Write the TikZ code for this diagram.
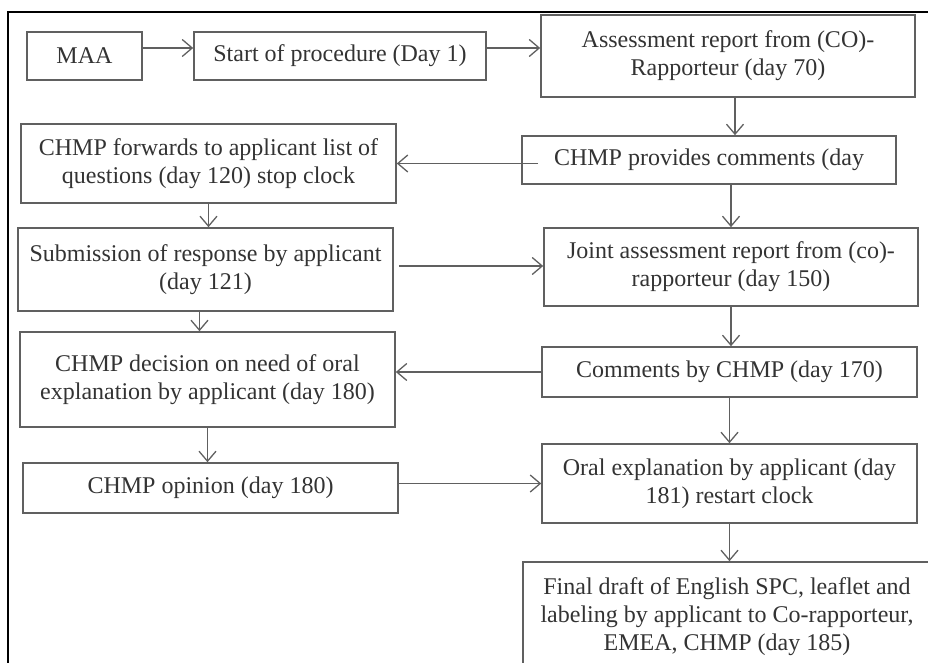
\documentclass[tikz,border=0pt]{standalone}
\usepackage{fontspec}
\setmainfont{Liberation Serif}
\usetikzlibrary{arrows.meta, calc}
\definecolor{boxgray}{HTML}{606060}
\definecolor{txtgray}{HTML}{333333}

\begin{document}
\begin{tikzpicture}[x=1pt,y=-1pt,
	box/.style={draw=boxgray,line width=1.6pt,inner sep=0pt,align=center,text=txtgray,font=\fontsize{24}{28}\selectfont},
	link/.style={draw=boxgray,line width=1.3pt,-{Straight Barb[length=10pt,width=17pt]}}]
	\useasboundingbox (0,0) rectangle (928,663);
	\clip (0,0) rectangle (928,663);
	\draw[line width=1.5pt](8,663)--(8,12)--(928,12);
	% right column
	\node[box,minimum width=115,minimum height=48](maa)at(84.5,56){MAA};
	\node[box,minimum width=292,minimum height=48](start)at(340,56){Start of procedure (Day 1)};
	\node[box,minimum width=374,minimum height=82](assess)at(728,56){Assessment report from (CO)-\\Rapporteur (day 70)};
	\node[box,minimum width=374,minimum height=48](prov)at(709,160){CHMP provides comments (day};
	\node[box,minimum width=374,minimum height=78](joint)at(731,267){Joint assessment report from (co)-\\rapporteur (day 150)};
	\node[box,minimum width=375,minimum height=50](cmts)at(729.5,372){Comments by CHMP (day 170)};
	\node[box,minimum width=375,minimum height=79](oral)at(729.5,483.5){Oral explanation by applicant (day\\181) restart clock};
	\node[box,minimum width=408,minimum height=110](final)at(727,617){Final draft of English SPC, leaflet and\\labeling by applicant to Co-rapporteur,\\EMEA, CHMP (day 185)};
	% left column
	\node[box,minimum width=375,minimum height=79](fwd)at(208.5,163.5){CHMP forwards to applicant list of\\questions (day 120) stop clock};
	\node[box,minimum width=375,minimum height=83](subm)at(205.5,269.5){Submission of response by applicant\\(day 121)};
	\node[box,minimum width=375,minimum height=95](decis)at(207.5,379.5){CHMP decision on need of oral\\explanation by applicant (day 180)};
	\node[box,minimum width=375,minimum height=50](opin)at(210.5,488){CHMP opinion (day 180)};
	% connectors
	\draw[link]([yshift=8pt]maa.east)--([yshift=8pt]start.west);
	\draw[link]([yshift=8pt]start.east)--([yshift=8pt]assess.west);
	\draw[link]([xshift=7pt]assess.south)--([xshift=7pt]assess.south |- prov.north);
	\draw[link]([xshift=17pt]prov.west |- fwd.east)--(fwd.east);
	\draw[link](fwd.south)--(fwd.south |- subm.north);
	\draw[link]([xshift=5pt]subm.east |- 0,266)--(joint.west |- 0,266);
	\draw[link](joint.north |- prov.south)--(joint.north);
	\draw[link](joint.south)--(joint.south |- cmts.north);
	\draw[link](cmts.west)--(cmts.west -| decis.east);
	\draw[link]([xshift=-6pt]subm.south)--([xshift=-6pt]subm.south |- decis.north);
	\draw[link](decis.south)--(decis.south |- opin.north);
	\draw[link](oral.west -| opin.east)--(oral.west);
	\draw[link](cmts.south)--(cmts.south |- oral.north);
	\draw[link](oral.south)--(oral.south |- final.north);
\end{tikzpicture}
\end{document}
